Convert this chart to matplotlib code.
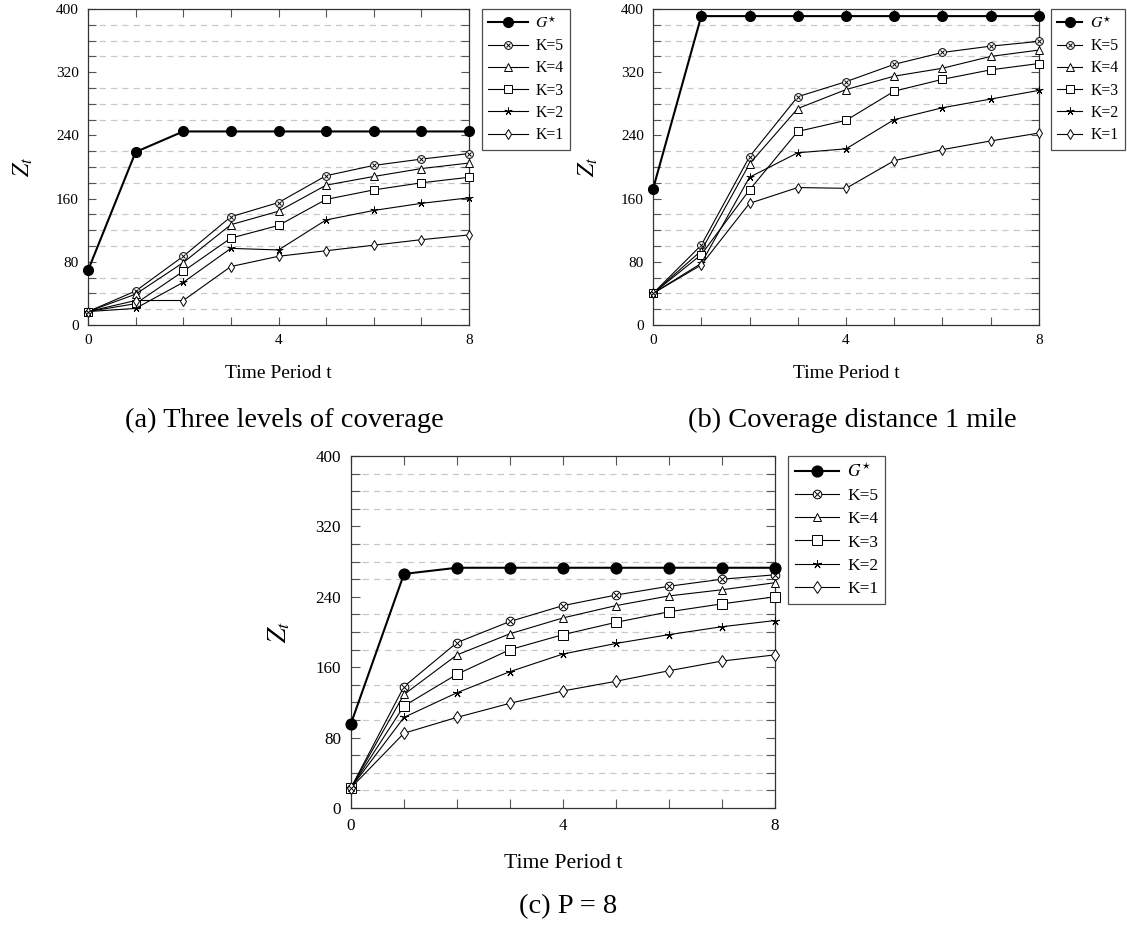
import matplotlib
matplotlib.use("Agg")
from matplotlib import pyplot as plt
from matplotlib.ticker import MultipleLocator, FixedLocator

plt.rcParams["font.family"] = ["Liberation Serif", "DejaVu Serif"]
plt.rcParams["mathtext.fontset"] = "stix"

W, H = 1127, 926

t = [0, 1, 2, 3, 4, 5, 6, 7, 8]
series_labels = [r"$G^{\star}$", "K=5", "K=4", "K=3", "K=2", "K=1"]

# (a) three levels of coverage
g_a = [69, 219, 245, 245, 245, 245, 245, 245, 245]
k5_a = [17, 43, 87, 137, 155, 189, 202, 210, 217]
k4_a = [17, 39, 79, 127, 144, 177, 188, 198, 205]
k3_a = [17, 27, 68, 110, 126, 159, 171, 180, 187]
k2_a = [17, 21, 54, 97, 95, 133, 145, 154, 161]
k1_a = [17, 31, 31, 74, 87, 94, 101, 108, 114]

# (b) coverage distance 1 mile
g_b = [172, 391, 391, 391, 391, 391, 391, 391, 391]
k5_b = [40, 101, 213, 289, 308, 330, 345, 353, 359]
k4_b = [40, 94, 204, 274, 298, 315, 325, 340, 348]
k3_b = [40, 89, 171, 245, 259, 296, 311, 323, 331]
k2_b = [40, 78, 187, 218, 223, 260, 275, 286, 297]
k1_b = [40, 76, 154, 174, 173, 208, 222, 233, 243]

# (c) P = 8
g_c = [96, 266, 273, 273, 273, 273, 273, 273, 273]
k5_c = [23, 138, 188, 212, 230, 242, 252, 260, 265]
k4_c = [23, 129, 174, 198, 216, 230, 241, 248, 256]
k3_c = [23, 116, 152, 180, 197, 211, 223, 232, 240]
k2_c = [23, 103, 131, 155, 175, 187, 197, 206, 213]
k1_c = [23, 85, 103, 119, 133, 144, 156, 167, 174]

captions = ["(a) Three levels of coverage", "(b) Coverage distance 1 mile", "(c) P = 8"]


def px_box(left, right, top, bottom):
    return [left / W, 1 - bottom / H, (right - left) / W, (bottom - top) / H]


def draw_panel(fig, box, data, legend_at, scale=1.0, handlelength=2.5):
    ax = fig.add_axes(px_box(*box))
    g, k5, k4, k3, k2, k1 = data
    ms = 5.6 * scale
    thin = dict(color="black", lw=0.8, mec="black", mew=0.7, clip_on=False, zorder=3)

    handles = []
    (h,) = ax.plot(t, g, "-o", color="black", lw=1.5, ms=7.0 * scale, mfc="black",
                   mec="black", clip_on=False, zorder=4)
    handles.append(h)
    # circled-times marker: open circle with an x on top
    (h,) = ax.plot(t, k5, "-o", ms=ms, mfc="white", **thin)
    (hx,) = ax.plot(t, k5, "x", ms=ms * 0.6, color="black", mew=0.7,
                    clip_on=False, zorder=4)
    handles.append((h, hx))
    (h,) = ax.plot(t, k4, "-^", ms=ms * 0.95, mfc="white", **thin)
    handles.append(h)
    (h,) = ax.plot(t, k3, "-s", ms=ms * 1.1, mfc="white", **thin)
    handles.append(h)
    (h,) = ax.plot(t, k2, "-", marker=(5, 2, 0), ms=ms, **thin)
    handles.append(h)
    (h,) = ax.plot(t, k1, "-d", ms=ms, mfc="white", **thin)
    handles.append(h)

    ax.set_xlim(0, 8)
    ax.set_ylim(0, 400)
    ax.xaxis.set_major_locator(FixedLocator([0, 4, 8]))
    ax.xaxis.set_minor_locator(MultipleLocator(1))
    ax.yaxis.set_major_locator(MultipleLocator(80))
    ax.yaxis.set_minor_locator(MultipleLocator(20))
    ax.tick_params(which="both", direction="in", top=True, right=True,
                   color="#555555", width=0.8, length=6 * scale)
    ax.tick_params(which="major", labelsize=11 * scale, pad=6.5 * scale)
    ax.grid(True, which="minor", axis="y", color="#c8c8c8", ls=(0, (5, 4)), lw=0.9)
    for s in ax.spines.values():
        s.set_linewidth(0.9)
        s.set_color("#333333")

    ax.set_xlabel("Time Period t", fontsize=14 * scale, labelpad=13 * scale)
    ax.set_ylabel(r"$Z_t$", fontsize=17 * scale, labelpad=15 * scale)

    lx, ly = legend_at
    leg = fig.legend(handles, series_labels, loc="upper left",
                     bbox_to_anchor=(lx / W, 1 - ly / H), borderaxespad=0,
                     fontsize=11.3 * scale, frameon=True, fancybox=False,
                     edgecolor="#222222", handlelength=handlelength,
                     handletextpad=0.5, labelspacing=0.4, borderpad=0.4)
    leg.get_frame().set_linewidth(0.9)
    return ax


fig = plt.figure(figsize=(W / 100, H / 100), dpi=100)

draw_panel(fig, (88, 469, 9, 325), (g_a, k5_a, k4_a, k3_a, k2_a, k1_a), (482, 9))
draw_panel(fig, (653, 1039, 9, 325), (g_b, k5_b, k4_b, k3_b, k2_b, k1_b), (1051, 9),
           handlelength=1.6)
draw_panel(fig, (351, 775, 456, 808), (g_c, k5_c, k4_c, k3_c, k2_c, k1_c), (788, 456),
           scale=1.11)

fig.text(284 / W, 1 - 420 / H, captions[0], ha="center", va="center", fontsize=20.5)
fig.text(852 / W, 1 - 420 / H, captions[1], ha="center", va="center", fontsize=20.5)
fig.text(568 / W, 1 - 907 / H, captions[2], ha="center", va="center", fontsize=20.5)

fig.savefig("out.png", dpi=100)
